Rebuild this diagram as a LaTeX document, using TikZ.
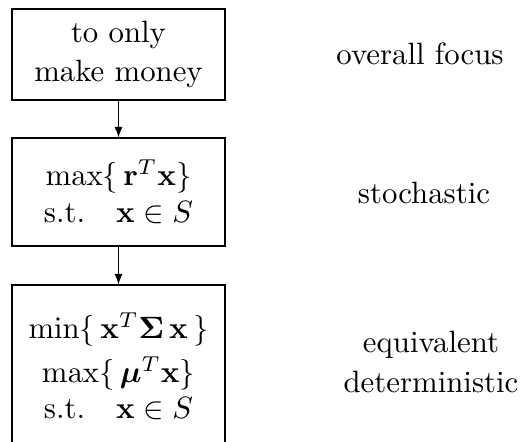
\documentclass[tikz,border=0pt]{standalone}
\usepackage{amsmath}
\usetikzlibrary{arrows.meta}
\begin{document}
\begin{tikzpicture}[x=0.3247pt,y=-0.3247pt,
  box/.style={draw, line width=0.35pt, minimum width=69.16pt, align=center, inner sep=0pt},
  lab/.style={align=center, inner sep=0pt},
  arr/.style={-{Latex[length=3.4pt,width=2.6pt]}, line width=0.35pt}]
\path[use as bounding box] (0,0) rectangle (522,442);
\clip (0,0) rectangle (522,442);
\node[box, minimum height=29.55pt] (b1) at (118.5,54.5) {to only\\[0.8pt]make money};
\node[box, minimum height=35.07pt] (b2) at (118.5,192) {$\max\{\,\mathbf{r}^T\mathbf{x}\}$\\s.t.\quad$\mathbf{x}\in S$};
\node[box, minimum height=52.6pt] (b3) at (118.5,366) {$\min\{\,\mathbf{x}^T\boldsymbol{\Sigma}\,\mathbf{x}\,\}$\\[2.5pt]$\max\{\,\boldsymbol{\mu}^T\mathbf{x}\}$\\[-0.5pt]s.t.\quad$\mathbf{x}\in S$};
\draw[arr] (b1.south) -- (b2.north);
\draw[arr] (b2.south) -- (b3.north);
\node[lab] (l1) at (420,54) {overall focus};
\node[lab] (l2) at (424,193) {stochastic};
\node[lab] (l3) at (431,362) {equivalent\\[0.8pt]deterministic};
\end{tikzpicture}
\end{document}
